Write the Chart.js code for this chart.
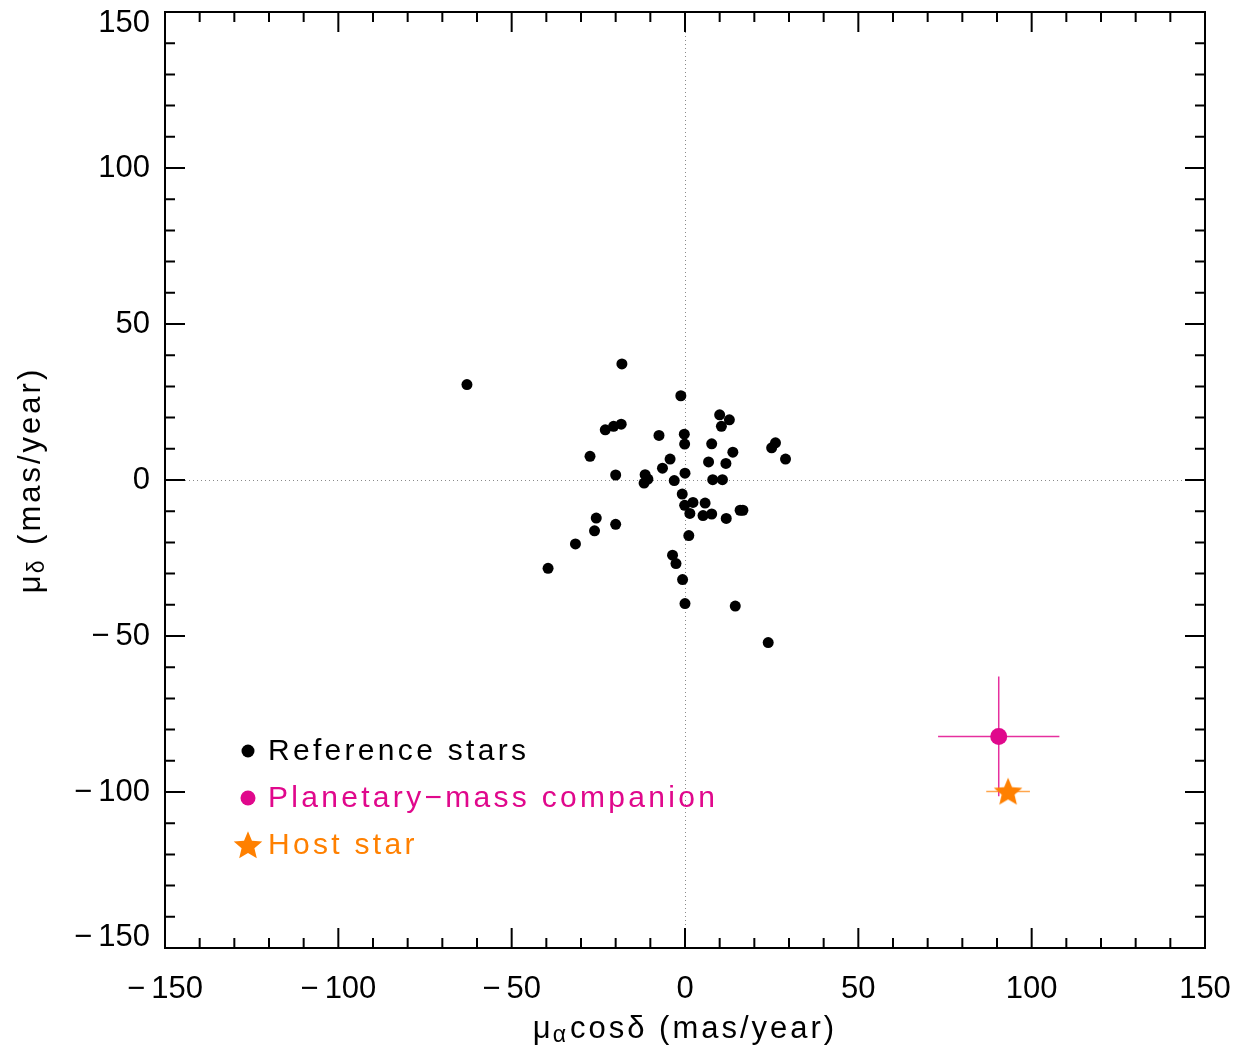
<!DOCTYPE html>
<html>
<head>
<meta charset="utf-8">
<script src="https://cdn.jsdelivr.net/npm/chart.js@4/dist/chart.umd.min.js"></script>
<style>
    html, body { margin: 0; padding: 0; background: #fff; }
    #wrap { width: 1242px; height: 1053px; }
</style>
</head>
<body>
<div id="wrap"><canvas id="pmChart" width="1242" height="1053"></canvas></div>
<script>
// Reference stars (mas/year)
const refX = [-62.9, -18.2, -1.2, 10.0, 12.8, 10.5, -23.0, -20.6, -18.4, -7.5, -0.2, -0.1, 7.7, 26.1, 25.0, 13.8,
    -27.4, 29.0, -4.3, 6.8, 11.8, -6.5, 0.0, -20.0, -11.5, -10.7, -11.8, -3.1, 8.0, 10.8, -0.8, -0.1, 2.3, 5.8,
    1.4, 5.2, 7.7, 11.9, 15.9, 16.7, -25.6, -26.1, -20.0, -31.6, 1.1, -3.6, -2.6, -0.7, 0.0, 14.5, -39.5, 24.0];
const refY = [30.6, 37.2, 27.0, 20.9, 19.3, 17.2, 16.1, 17.2, 17.9, 14.3, 14.7, 11.5, 11.6, 11.9, 10.3, 8.9,
    7.6, 6.7, 6.7, 5.8, 5.3, 3.8, 2.2, 1.6, 1.7, 0.3, -1.0, -0.2, 0.1, 0.1, -4.5, -8.1, -7.2, -7.4,
    -10.7, -11.4, -10.9, -12.3, -9.7, -9.7, -12.2, -16.3, -14.2, -20.5, -17.8, -24.1, -26.8, -31.9, -39.6, -40.4, -28.3, -52.1];

// Planetary-mass companion
const compX = [90.5];
const compY = [-82.2];
const compErrX = [17.5];
const compErrY = [19.2];

// Host star
const hostX = [93.2];
const hostY = [-99.8];
const hostErrX = [6.3];

const tickValues = [-150, -100, -50, 0, 50, 100, 150];
const minorStep = 10;
const legendLabels = ['Reference stars', 'Planetary\u2212mass companion', 'Host star'];

const MAGENTA = '#e0088c';
const ORANGE = '#ff8000';
const FONT = 'Liberation Sans';

const makeStar = (size, color) => {
    const c = document.createElement('canvas');
    c.width = size;
    c.height = size;
    const g = c.getContext('2d');
    const cx = size / 2, cy = size / 2 + size * 0.04, R = size / 2, r = R * 0.45;
    g.fillStyle = color;
    g.beginPath();
    for (let i = 0; i < 10; i++) {
        const a = -Math.PI / 2 + i * Math.PI / 5;
        const rad = i % 2 ? r : R;
        g.lineTo(cx + rad * Math.cos(a), cy + rad * Math.sin(a));
    }
    g.closePath();
    g.fill();
    return c;
};
const starImg = makeStar(30, ORANGE);

const formatTick = v => (v < 0 ? '\u2212\u2009' + Math.abs(v) : String(v));

const setSpacing = (ctx, s) => { if ('letterSpacing' in ctx) ctx.letterSpacing = s; };

// draws "main" + subscript + "rest", centred on x, middle at y
const drawSubText = (ctx, x, y, main, sub, rest) => {
    setSpacing(ctx, '3px');
    ctx.font = `31px "${FONT}"`;
    const w1 = ctx.measureText(main).width;
    const w3 = ctx.measureText(rest).width;
    ctx.font = `23px "${FONT}"`;
    const w2 = ctx.measureText(sub).width;
    const sx = x - (w1 + w2 + w3) / 2;
    ctx.textAlign = 'left';
    ctx.textBaseline = 'middle';
    ctx.font = `31px "${FONT}"`;
    ctx.fillText(main, sx, y);
    ctx.font = `23px "${FONT}"`;
    ctx.fillText(sub, sx + w1 - 1, y + 7);
    ctx.font = `31px "${FONT}"`;
    ctx.fillText(rest, sx + w1 + w2, y);
    setSpacing(ctx, '0px');
};

// IDL keeps the end labels of the y axis inside the box
const shiftEndLabels = scale => {
    if (scale._idlPatched || typeof scale._computeLabelItems !== 'function') return;
    scale._idlPatched = true;
    const orig = scale._computeLabelItems;
    scale._computeLabelItems = function (area) {
        const items = orig.call(this, area);
        items.forEach((it, i) => {
            const t = this.ticks[i];
            if (!t || !it.options || !it.options.translation) return;
            if (t.value === this.max) it.options.translation[1] += 11;
            if (t.value === this.min) it.options.translation[1] -= 11;
        });
        return items;
    };
};

const idlFrame = {
    id: 'idlFrame',
    beforeDatasetsDraw(chart) {
        const { ctx, chartArea: { left, right, top, bottom } } = chart;
        const xs = chart.scales.x, ys = chart.scales.y;
        ctx.save();
        // dotted zero lines
        ctx.strokeStyle = '#8a8a8a';
        ctx.lineWidth = 1;
        ctx.setLineDash([1, 3]);
        ctx.beginPath();
        const x0 = Math.round(xs.getPixelForValue(0)) + 0.5;
        const y0 = Math.round(ys.getPixelForValue(0)) + 0.5;
        ctx.moveTo(x0, top);
        ctx.lineTo(x0, bottom);
        ctx.moveTo(left, y0);
        ctx.lineTo(right, y0);
        ctx.stroke();
        ctx.setLineDash([]);

        // error bars
        ctx.lineWidth = 1.5;
        ctx.strokeStyle = '#ffa64d';
        hostX.forEach((v, i) => {
            const py = ys.getPixelForValue(hostY[i]);
            ctx.beginPath();
            ctx.moveTo(xs.getPixelForValue(v - hostErrX[i]), py);
            ctx.lineTo(xs.getPixelForValue(v + hostErrX[i]), py);
            ctx.stroke();
        });
        ctx.strokeStyle = '#e6309e';
        compX.forEach((v, i) => {
            const px = xs.getPixelForValue(v), py = ys.getPixelForValue(compY[i]);
            ctx.beginPath();
            ctx.moveTo(xs.getPixelForValue(v - compErrX[i]), py);
            ctx.lineTo(xs.getPixelForValue(v + compErrX[i]), py);
            ctx.moveTo(px, ys.getPixelForValue(compY[i] + compErrY[i]));
            ctx.lineTo(px, ys.getPixelForValue(compY[i] - compErrY[i]));
            ctx.stroke();
        });
        ctx.restore();
    },
    afterDraw(chart) {
        const { ctx, chartArea: { left, right, top, bottom } } = chart;
        const xs = chart.scales.x, ys = chart.scales.y;
        ctx.save();
        // box
        ctx.strokeStyle = '#000';
        ctx.lineWidth = 2;
        ctx.strokeRect(left, top, right - left, bottom - top);
        // inward ticks on all four sides
        ctx.beginPath();
        for (let v = tickValues[0]; v <= tickValues[tickValues.length - 1]; v += minorStep) {
            const len = tickValues.includes(v) ? 20 : 10;
            const px = xs.getPixelForValue(v);
            const py = ys.getPixelForValue(v);
            ctx.moveTo(px, bottom); ctx.lineTo(px, bottom - len);
            ctx.moveTo(px, top); ctx.lineTo(px, top + len);
            ctx.moveTo(left, py); ctx.lineTo(left + len, py);
            ctx.moveTo(right, py); ctx.lineTo(right - len, py);
        }
        ctx.stroke();

        // axis titles
        ctx.fillStyle = '#000';
        drawSubText(ctx, (left + right) / 2, 1029, '\u03bc', '\u03b1', 'cos\u03b4 (mas/year)');
        ctx.save();
        ctx.translate(31, (top + bottom) / 2);
        ctx.rotate(-Math.PI / 2);
        drawSubText(ctx, 0, 0, '\u03bc', '\u03b4', ' (mas/year)');
        ctx.restore();

        // legend
        const colors = ['#000', MAGENTA, ORANGE];
        const rowY = [751, 798, 845];
        ctx.font = `30px "${FONT}"`;
        ctx.textAlign = 'left';
        ctx.textBaseline = 'middle';
        setSpacing(ctx, '3.3px');
        legendLabels.forEach((label, i) => {
            ctx.fillStyle = colors[i];
            if (i < 2) {
                ctx.beginPath();
                ctx.arc(248, rowY[i], i === 0 ? 6.5 : 7.5, 0, Math.PI * 2);
                ctx.fill();
            } else {
                ctx.drawImage(starImg, 248 - 15, rowY[i] - 15);
            }
            ctx.fillText(label, 268, rowY[i] + 1);
        });
        setSpacing(ctx, '0px');
        ctx.restore();
    }
};

const ctx = document.getElementById('pmChart').getContext('2d');

new Chart(ctx, {
    type: 'scatter',
    data: {
        datasets: [
            {
                label: legendLabels[0],
                data: refX.map((x, i) => ({ x: x, y: refY[i] })),
                pointRadius: 5.5,
                backgroundColor: '#000',
                borderWidth: 0
            },
            {
                label: legendLabels[2],
                data: hostX.map((x, i) => ({ x: x, y: hostY[i] })),
                pointStyle: starImg
            },
            {
                label: legendLabels[1],
                data: compX.map((x, i) => ({ x: x, y: compY[i] })),
                pointRadius: 8.5,
                backgroundColor: MAGENTA,
                borderWidth: 0
            }
        ]
    },
    options: {
        responsive: false,
        animation: false,
        devicePixelRatio: 1,
        layout: { padding: { top: 12, right: 37, left: 0, bottom: 0 } },
        plugins: {
            legend: { display: false },
            tooltip: { enabled: false }
        },
        scales: {
            x: {
                type: 'linear',
                min: -150,
                max: 150,
                grid: { display: false },
                border: { display: false },
                afterBuildTicks: scale => { scale.ticks = tickValues.map(v => ({ value: v })); },
                afterFit: scale => { scale.height = 105; scale.paddingLeft = 0; scale.paddingRight = 0; },
                ticks: {
                    padding: 15,
                    color: '#000',
                    maxRotation: 0,
                    font: { family: FONT, size: 31 },
                    callback: formatTick
                }
            },
            y: {
                type: 'linear',
                min: -150,
                max: 150,
                grid: { display: false },
                border: { display: false },
                afterBuildTicks: scale => { scale.ticks = tickValues.map(v => ({ value: v })); },
                afterFit: scale => {
                    scale.width = 165;
                    scale.paddingTop = 0;
                    scale.paddingBottom = 0;
                    shiftEndLabels(scale);
                },
                ticks: {
                    padding: 7,
                    color: '#000',
                    font: { family: FONT, size: 31 },
                    callback: formatTick
                }
            }
        }
    },
    plugins: [idlFrame]
});
</script>
</body>
</html>
